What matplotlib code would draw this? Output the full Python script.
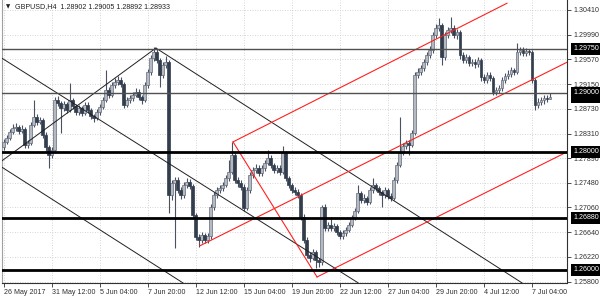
import matplotlib
matplotlib.use("Agg")
import matplotlib.pyplot as plt
from matplotlib.transforms import blended_transform_factory

# GBPUSD H4 candles (open of each bar = previous close)
first_open = 1.2808
closes = [1.2817, 1.2824, 1.2834, 1.2841, 1.2842, 1.2836, 1.2839, 1.2812, 1.2815, 1.2846,
          1.2859, 1.2851, 1.2854, 1.2829, 1.2808, 1.2795, 1.2803, 1.2888, 1.2883, 1.2874,
          1.2881, 1.2871, 1.2888, 1.2878, 1.2868, 1.2874, 1.2866, 1.2880, 1.2871, 1.2861,
          1.2858, 1.2868, 1.2876, 1.2888, 1.2905, 1.2897, 1.2913, 1.2919, 1.2922, 1.2915,
          1.2880, 1.2888, 1.2891, 1.2897, 1.2902, 1.2893, 1.2888, 1.2913, 1.2936, 1.2959,
          1.2969, 1.2956, 1.2930, 1.2947, 1.2952, 1.2727, 1.2747, 1.2752, 1.2735, 1.2727,
          1.2744, 1.2749, 1.2742, 1.2693, 1.2656, 1.2651, 1.2659, 1.2651, 1.2657, 1.2707,
          1.2727, 1.2735, 1.2739, 1.2744, 1.2756, 1.2766, 1.2795, 1.2752, 1.2747, 1.2741,
          1.2705, 1.2735, 1.2761, 1.2769, 1.2773, 1.2764, 1.2773, 1.2781, 1.2790, 1.2778,
          1.2769, 1.2773, 1.2766, 1.2798, 1.2756, 1.2744, 1.2735, 1.2732, 1.2727, 1.2690,
          1.2651, 1.2625, 1.2620, 1.2630, 1.2617, 1.2613, 1.2707, 1.2671, 1.2676, 1.2671,
          1.2674, 1.2664, 1.2657, 1.2663, 1.2668, 1.2676, 1.2688, 1.2700, 1.2730, 1.2719,
          1.2722, 1.2715, 1.2735, 1.2744, 1.2739, 1.2732, 1.2727, 1.2735, 1.2725, 1.2722,
          1.2752, 1.2778, 1.2798, 1.2810, 1.2815, 1.2812, 1.2832, 1.2930, 1.2936, 1.2942,
          1.2952, 1.2964, 1.2973, 1.2998, 1.3010, 1.3015, 1.2961, 1.2998, 1.3007, 1.3010,
          1.2998, 1.3003, 1.2964, 1.2956, 1.2961, 1.2951, 1.2952, 1.2949, 1.2956, 1.2927,
          1.2922, 1.2930, 1.2925, 1.2902, 1.2905, 1.2908, 1.2922, 1.2929, 1.2932, 1.2939,
          1.2936, 1.2969, 1.2973, 1.2968, 1.2971, 1.2969, 1.2922, 1.2880, 1.2885, 1.2888,
          1.2891, 1.28902, 1.28933]
highs = [1.2822, 1.2829, 1.2839, 1.2847, 1.2849, 1.2846, 1.2845, 1.2842, 1.2820, 1.2851,
         1.2888, 1.2864, 1.2860, 1.2858, 1.2833, 1.2812, 1.2808, 1.2893, 1.2894, 1.2887,
         1.2886, 1.2885, 1.2917, 1.2892, 1.2882, 1.2879, 1.2878, 1.2885, 1.2884, 1.2875,
         1.2865, 1.2873, 1.2881, 1.2893, 1.2939, 1.2910, 1.2918, 1.2925, 1.2928, 1.2927,
         1.2919, 1.2893, 1.2897, 1.2902, 1.2908, 1.2906, 1.2897, 1.2918, 1.2941, 1.2965,
         1.2978, 1.2974, 1.2960, 1.2952, 1.2963, 1.2956, 1.2752, 1.2758, 1.2757, 1.2740,
         1.2749, 1.2755, 1.2754, 1.2746, 1.2697, 1.2661, 1.2664, 1.2663, 1.2662, 1.2712,
         1.2732, 1.2741, 1.2744, 1.2749, 1.2761, 1.2786, 1.2817, 1.2799, 1.2757, 1.2752,
         1.2745, 1.2740, 1.2766, 1.2775, 1.2779, 1.2777, 1.2778, 1.2786, 1.2803, 1.2794,
         1.2782, 1.2778, 1.2777, 1.2810, 1.2802, 1.2760, 1.2748, 1.2740, 1.2737, 1.2731,
         1.2694, 1.2655, 1.2630, 1.2635, 1.2634, 1.2621, 1.2710, 1.2711, 1.2681, 1.2690,
         1.2679, 1.2678, 1.2668, 1.2668, 1.2673, 1.2681, 1.2693, 1.2705, 1.2744, 1.2734,
         1.2728, 1.2726, 1.2740, 1.2756, 1.2748, 1.2743, 1.2736, 1.2740, 1.2739, 1.2730,
         1.2757, 1.2783, 1.2859, 1.2815, 1.2820, 1.2820, 1.2837, 1.2935, 1.2942, 1.2948,
         1.2957, 1.2969, 1.2979, 1.3003, 1.3016, 1.3027, 1.3019, 1.3003, 1.3012, 1.3029,
         1.3015, 1.3009, 1.3007, 1.2969, 1.2966, 1.2965, 1.2958, 1.2957, 1.2961, 1.2960,
         1.2932, 1.2935, 1.2935, 1.2929, 1.2910, 1.2913, 1.2927, 1.2934, 1.2938, 1.2944,
         1.2943, 1.2985, 1.2978, 1.2977, 1.2976, 1.2975, 1.2973, 1.2926, 1.2891, 1.2893,
         1.2896, 1.2897, 1.29005]
lows = [1.2803, 1.2813, 1.2820, 1.2830, 1.2836, 1.2831, 1.2832, 1.2806, 1.2807, 1.2811,
        1.2842, 1.2846, 1.2847, 1.2824, 1.2802, 1.2773, 1.2789, 1.2799, 1.2878, 1.2832,
        1.2869, 1.2866, 1.2867, 1.2873, 1.2862, 1.2863, 1.2861, 1.2862, 1.2866, 1.2856,
        1.2851, 1.2854, 1.2863, 1.2872, 1.2884, 1.2892, 1.2893, 1.2908, 1.2914, 1.2910,
        1.2874, 1.2876, 1.2883, 1.2886, 1.2893, 1.2888, 1.2882, 1.2884, 1.2909, 1.2931,
        1.2954, 1.2951, 1.2910, 1.2926, 1.2942, 1.2697, 1.2719, 1.2637, 1.2730, 1.2721,
        1.2722, 1.2739, 1.2737, 1.2688, 1.2650, 1.2639, 1.2646, 1.2645, 1.2646, 1.2652,
        1.2702, 1.2722, 1.2730, 1.2734, 1.2740, 1.2751, 1.2762, 1.2747, 1.2741, 1.2736,
        1.2699, 1.2701, 1.2731, 1.2756, 1.2764, 1.2759, 1.2760, 1.2768, 1.2777, 1.2773,
        1.2764, 1.2764, 1.2761, 1.2762, 1.2751, 1.2739, 1.2730, 1.2727, 1.2722, 1.2684,
        1.2646, 1.2620, 1.2614, 1.2616, 1.2603, 1.2605, 1.2609, 1.2666, 1.2666, 1.2666,
        1.2666, 1.2659, 1.2652, 1.2653, 1.2658, 1.2664, 1.2672, 1.2684, 1.2696, 1.2714,
        1.2714, 1.2710, 1.2711, 1.2731, 1.2734, 1.2727, 1.2707, 1.2722, 1.2720, 1.2717,
        1.2718, 1.2748, 1.2774, 1.2794, 1.2805, 1.2795, 1.2808, 1.2828, 1.2925, 1.2931,
        1.2937, 1.2947, 1.2959, 1.2968, 1.2993, 1.3005, 1.2947, 1.2956, 1.2993, 1.3002,
        1.2993, 1.2992, 1.2958, 1.2950, 1.2951, 1.2946, 1.2945, 1.2943, 1.2944, 1.2921,
        1.2916, 1.2917, 1.2920, 1.2897, 1.2896, 1.2900, 1.2904, 1.2917, 1.2924, 1.2927,
        1.2931, 1.2932, 1.2964, 1.2963, 1.2962, 1.2964, 1.2917, 1.2871, 1.2875, 1.2879,
        1.2882, 1.2884, 1.28892]

date_labels = ["26 May 2017", "31 May 12:00", "5 Jun 04:00", "7 Jun 20:00", "12 Jun 12:00",
               "15 Jun 04:00", "19 Jun 20:00", "22 Jun 12:00", "27 Jun 04:00", "29 Jun 20:00",
               "4 Jul 12:00", "7 Jul 04:00"]
bars_per_label = 16
price_ticks = [1.30410, 1.29990, 1.29570, 1.29150, 1.28730, 1.28310, 1.27890,
               1.27480, 1.27060, 1.26640, 1.26220, 1.25800]
thin_levels = [1.29750, 1.29000]
thick_levels = [1.28000, 1.26880, 1.26000]
last_price = 1.28933
title = "GBPUSD,H4  1.28902 1.29005 1.28892 1.28933"

# trend lines, (bar, price) end points
black_lines = [((-1.2, 1.2961), (118.2, 1.2578)),
               ((50.8, 1.2976), (172.8, 1.2578)),
               ((-0.5, 1.2774), (59.8, 1.2578)),
               ((-0.5, 1.2785), (50.8, 1.2976))]
red_lines = [((76.5, 1.2817), (167.8, 1.3052)),
             ((65.5, 1.2641), (187.8, 1.2952)),
             ((104.5, 1.2588), (187.8, 1.2800)),
             ((76.5, 1.2817), (104.5, 1.2588))]

plt.rcParams['font.family'] = ['Liberation Sans', 'DejaVu Sans']
fig = plt.figure(figsize=(6, 3), dpi=100, facecolor='white')
ax = fig.add_axes([2 / 600, 17 / 300, 565 / 600, 283 / 300])

opens = [first_open] + closes[:-1]
xs = list(range(len(closes)))
up_x, up_b, up_h, dn_x, dn_b, dn_h = [], [], [], [], [], []
for i, (o, c) in enumerate(zip(opens, closes)):
    if c >= o:
        up_x.append(i); up_b.append(o); up_h.append(max(c - o, 0.00005))
    else:
        dn_x.append(i); dn_b.append(c); dn_h.append(o - c)

ax.vlines(xs, lows, highs, color='#4a5262', lw=0.8, zorder=3)
ax.bar(up_x, up_h, bottom=up_b, width=0.72, color='#b4b9c2', edgecolor='#646c7a',
       lw=0.5, zorder=4)
ax.bar(dn_x, dn_h, bottom=dn_b, width=0.72, color='#323d4d', edgecolor='#323d4d',
       lw=0.5, zorder=4)

for (x0, y0), (x1, y1) in black_lines:
    ax.plot([x0, x1], [y0, y1], color='#202020', lw=0.7, zorder=5)
for (x0, y0), (x1, y1) in red_lines:
    ax.plot([x0, x1], [y0, y1], color='#ff2020', lw=0.8, zorder=5)
for lv in thin_levels:
    ax.axhline(lv, color='#505050', lw=1.0, zorder=5)
for lv in thick_levels:
    ax.axhline(lv, color='black', lw=2.0, zorder=5)

ax.set_xlim(-0.5, 187.8)
ax.set_ylim(1.25778, 1.30575)

ax.set_xticks([k * bars_per_label for k in range(len(date_labels))])
ax.set_xticklabels(date_labels, ha='left')
ax.set_yticks(price_ticks)
ax.set_yticklabels(["%.5f" % p for p in price_ticks])
ax.yaxis.tick_right()
ax.tick_params(axis='both', labelsize=5.1, colors='#303030', length=3, width=0.6, pad=1.5)
ax.tick_params(axis='x', pad=1.0)
ax.grid(True, color='#c8c8c8', lw=0.6, linestyle=(0, (1, 2)))
ax.set_axisbelow(True)

ax.spines['top'].set_visible(False)
ax.spines['left'].set_color('#a0a0a0')
ax.spines['right'].set_color('#303030')
ax.spines['bottom'].set_color('#303030')
for s in ['left', 'right', 'bottom']:
    ax.spines[s].set_linewidth(0.8)

trans = blended_transform_factory(ax.transAxes, ax.transData)
box_x = 1.0 + 6 / 565
for lv in [last_price] + thin_levels[::-1] + thick_levels:
    ax.text(box_x, lv, "%.5f" % lv, transform=trans, fontsize=5.1, color='white',
            va='center', ha='left', clip_on=False, zorder=10,
            bbox=dict(boxstyle='square,pad=0.35', fc='black', ec='black', lw=0))

ax.text(4 / 565, 0.977, "\u25bc", transform=ax.transAxes, fontsize=4.0,
        color='#202020', va='center', ha='left', family='DejaVu Sans')
ax.text(13 / 565, 0.977, title, transform=ax.transAxes, fontsize=5.1,
        color='#202020', va='center', ha='left')

plt.savefig('out.png', dpi=100)
plt.close()
